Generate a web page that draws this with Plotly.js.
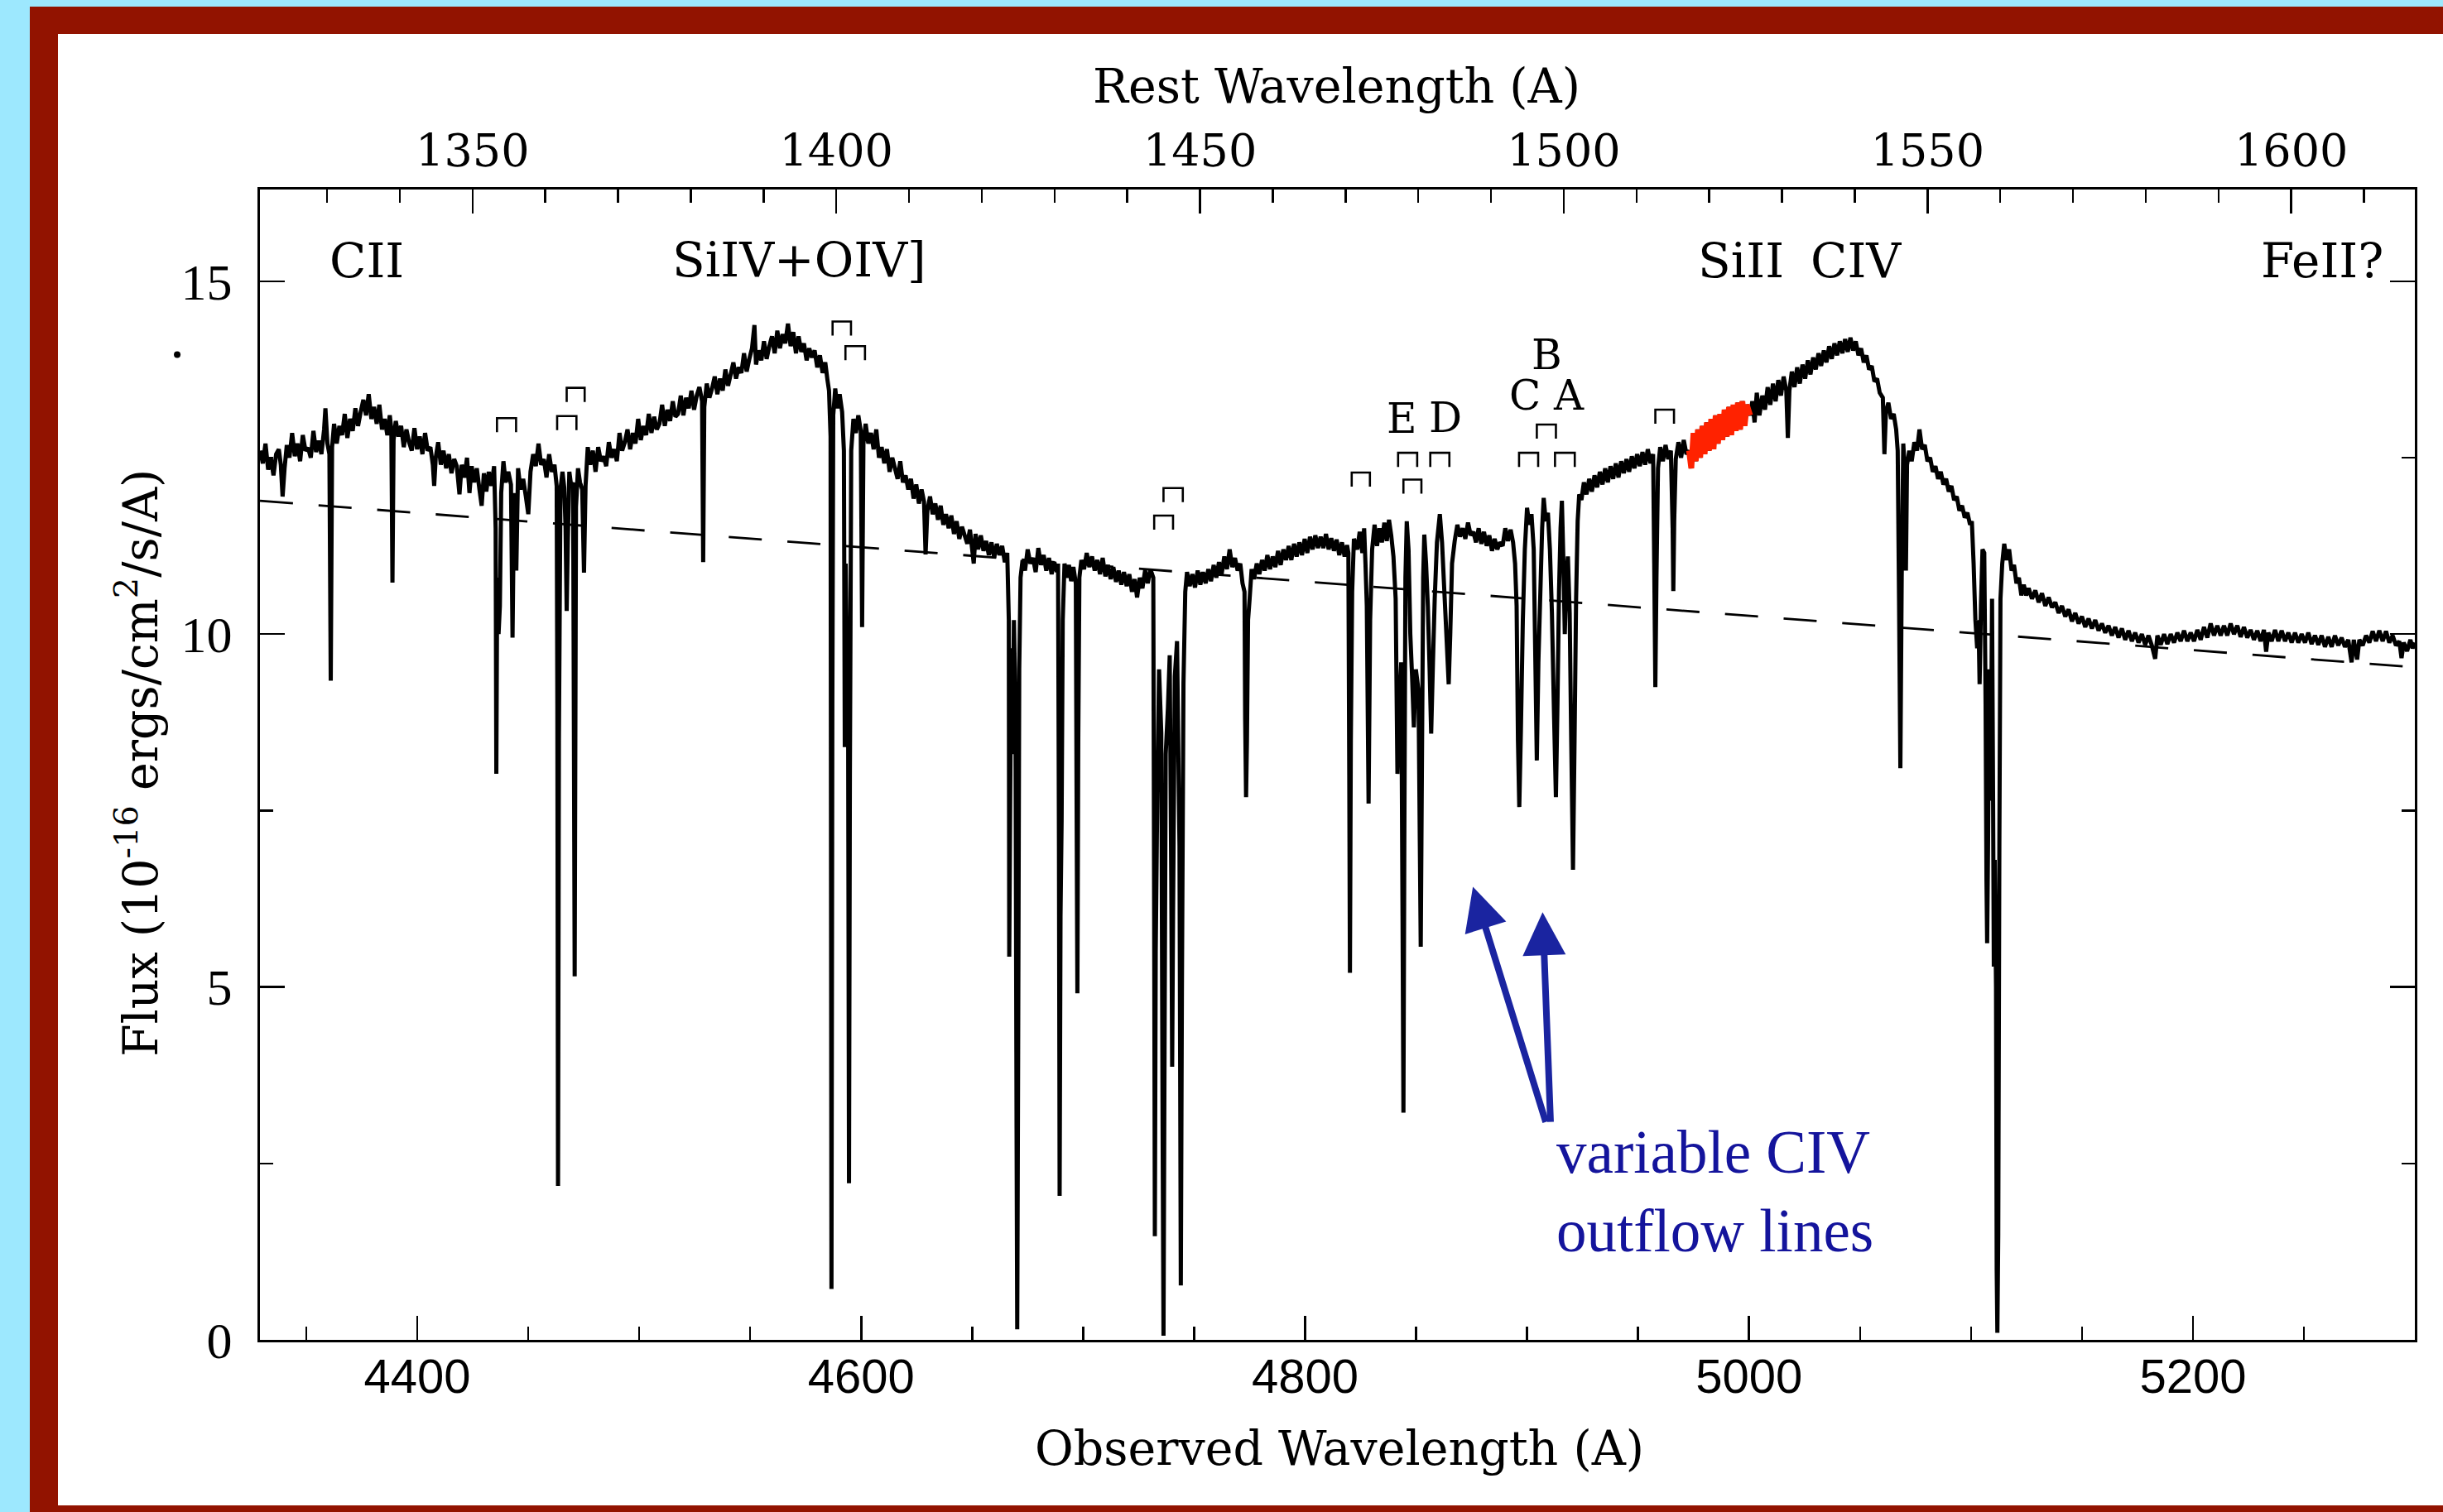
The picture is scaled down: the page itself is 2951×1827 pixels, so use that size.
<!DOCTYPE html>
<html>
<head>
<meta charset="utf-8">
<script src="https://cdn.plot.ly/plotly-3.0.1.min.js"></script>
<style>
  html, body { margin: 0; padding: 0; width: 2951px; height: 1827px; overflow: hidden; background: #9DE8FE; }
  #frame { position: absolute; left: 36px; top: 8px; width: 2915px; height: 1819px; background: #921300; }
  #plot { position: absolute; left: 70px; top: 41px; width: 2881px; height: 1778px; background: #ffffff; }
</style>
</head>
<body>
<div id="frame"></div>
<div id="plot"></div>
<script>
// ---------- DATA (observed wavelength in A, flux in 1e-16 erg/cm2/s/A) ----------
const segCII = [[4329.2,12.6],[4330.4,12.42],[4331.6,12.7],[4332.8,12.33],[4334,12.5],[4335.2,12.25],[4336.4,12.55],[4337.6,12.62],[4338.5,12.4],[4339.3,11.95],[4340.2,12.35],[4341.2,12.68],[4342.4,12.5],[4343.6,12.85],[4344.8,12.52],[4346,12.7],[4347.2,12.45],[4348.4,12.82],[4349.6,12.6],[4350.8,12.64],[4352,12.5],[4353.2,12.88],[4354.4,12.58],[4355.6,12.74],[4356.8,12.55],[4358,12.9],[4358.6,13.2],[4359.5,12.7],[4360.4,12.55],[4361,9.34],[4361.6,12.65],[4362.5,12.98],[4363.7,12.7],[4364.9,12.95],[4366.1,12.82],[4367.3,13.12],[4368.5,12.78],[4369.7,13.05],[4370.9,12.88],[4372.1,13.2],[4373.3,12.95],[4374.5,13.15],[4375.7,13.32],[4376.9,13.1],[4378.1,13.4],[4379.3,13.05],[4380.5,13.22],[4381.7,12.98],[4382.9,13.25],[4384.1,12.9],[4385.3,13.05],[4386.5,12.82],[4387.6,13.1],[4388.3,12.9],[4388.8,10.73],[4389.3,12.75],[4390.3,13.02],[4391.5,12.8],[4392.7,12.95],[4393.9,12.65],[4395.1,12.9],[4396.3,12.72],[4397.5,12.6],[4398.7,12.92],[4399.9,12.62],[4401.1,12.8],[4402.3,12.55],[4403.5,12.85],[4404.7,12.6],[4405.9,12.65],[4407,12.4],[4407.6,12.1],[4408.3,12.5],[4409.4,12.72],[4410.6,12.4],[4411.8,12.6],[4413,12.35],[4414.2,12.55],[4415.4,12.28],[4416.6,12.48],[4417.8,12.38],[4419,11.98],[4420,12.4],[4421.2,12.22],[4422.4,12.5],[4423.5,12.0],[4424.5,12.38],[4425.6,12.15],[4426.8,12.35],[4428,12.05],[4429,11.82],[4430,12.28],[4431.1,12.02],[4432.2,12.3]];
const segAbs1 = [[4433.4,12.1],[4434.6,12.38],[4435.3,11.5],[4435.6,8.02],[4436.0,10.8],[4436.6,10.0],[4437.2,10.4],[4437.8,12.0],[4438.8,12.45],[4439.8,12.15],[4441,12.3],[4442.2,12.12],[4442.9,9.95],[4443.6,12.0],[4444.6,10.9],[4445.4,12.35],[4446.5,12.05],[4447.7,12.2],[4448.9,11.95],[4450,11.7],[4451,12.3],[4452.2,12.55],[4453.4,12.38],[4454.6,12.7],[4455.8,12.4],[4457,12.48],[4458.2,12.22],[4459.4,12.55],[4460.6,12.3],[4461.8,12.4],[4462.8,12.1],[4463.1,9.0],[4463.4,2.18],[4463.8,8.5],[4464.5,12.05],[4465.4,12.3],[4466.2,12.08],[4466.8,11.5],[4467.3,10.33],[4467.8,11.3],[4468.5,12.3],[4469.4,12.08],[4470.2,12.15],[4470.9,5.15],[4471.5,11.8],[4472.4,12.35],[4473.3,12.15],[4474.3,12.05],[4475.1,10.87],[4475.8,12.1],[4476.8,12.65],[4477.9,12.4],[4479.1,12.6]];
const segSiIVRise = [[4480.3,12.3],[4481.5,12.65],[4482.7,12.45],[4483.9,12.52],[4485.1,12.38],[4486.3,12.72],[4487.5,12.5],[4488.7,12.62],[4489.9,12.45],[4491.1,12.85],[4492.3,12.6],[4493.5,12.72],[4494.7,12.9],[4495.9,12.62],[4497.1,12.85],[4498.3,12.7],[4499.5,13.05],[4500.7,12.75],[4501.9,12.95],[4503.1,12.82],[4504.3,13.12],[4505.5,12.85],[4506.7,13.08],[4507.9,12.9],[4509.1,12.98],[4510.3,13.25],[4511.5,12.95],[4512.7,13.18],[4513.9,13.02],[4515.1,13.3],[4516.3,13.08],[4517.5,13.12],[4518.7,13.38],[4519.9,13.1],[4521.1,13.35],[4522.3,13.2],[4523.5,13.45],[4524.7,13.18],[4525.9,13.38],[4527.1,13.5],[4528.3,13.3],[4528.8,11.02],[4529.3,13.22],[4530.4,13.55],[4531.6,13.35],[4532.8,13.48],[4534,13.65],[4535.2,13.4],[4536.4,13.62],[4537.6,13.45],[4538.8,13.75],[4540,13.52],[4541.2,13.68],[4542.4,13.85],[4543.6,13.62],[4544.8,13.78],[4546,13.7],[4547.2,13.98],[4548.4,13.72],[4549.6,13.9],[4550.8,14.05],[4551.9,14.38],[4552.6,13.82],[4553.8,14.02],[4555,13.88],[4556.2,14.15],[4557.4,13.9],[4558.6,14.08],[4559.8,14.22],[4561,13.98],[4562.2,14.3],[4563.4,14.05],[4564.6,14.25],[4565.8,14.12],[4567,14.4],[4568.2,14.08],[4569.4,14.28],[4570.6,13.98],[4571.8,14.22],[4573,14.0],[4574.2,14.12],[4575.4,13.88],[4576.6,14.05],[4577.8,13.92],[4579,14.02],[4580.2,13.78],[4581.4,13.95],[4582.6,13.7],[4583.8,13.85],[4584.8,13.6],[4585.5,13.45]];
const segSiIVAbs = [[4586.2,12.8],[4586.6,0.72],[4587.0,9.0],[4587.4,13.1],[4588.3,13.48],[4589.3,13.2],[4590.3,13.4],[4591.4,13.15],[4592.2,12.6],[4592.6,8.4],[4593.0,11.0],[4593.6,9.6],[4594.1,9.0],[4594.5,2.22],[4594.9,8.0],[4595.5,12.6],[4596.5,13.05],[4597.6,12.85],[4598.7,13.1],[4599.8,12.88],[4600.4,10.1],[4601,12.7],[4602,12.98],[4603.2,12.7],[4604.4,12.85],[4605.6,12.62],[4606.8,12.9],[4608,12.5],[4609.2,12.65],[4610.4,12.42],[4611.6,12.62],[4612.8,12.3],[4614,12.5],[4615.2,12.35],[4616.4,12.2],[4617.6,12.45],[4618.8,12.15],[4620,12.25],[4621.2,12.05],[4622.4,12.2],[4623.6,11.92],[4624.8,12.12],[4626,11.85],[4627.2,12.05],[4628.3,11.88],[4629,11.13],[4629.8,11.75],[4631,11.95],[4632.2,11.7],[4633.4,11.85],[4634.6,11.62],[4635.8,11.82],[4637,11.55],[4638.2,11.7],[4639.4,11.5],[4640.6,11.68],[4641.8,11.42],[4643,11.6],[4644.2,11.35],[4645.4,11.52],[4646.6,11.4],[4647.8,11.28],[4649,11.48],[4650.7,11.0],[4651.5,11.42],[4652.7,11.2],[4653.9,11.4],[4655.1,11.18],[4656.3,11.32],[4657.5,11.12],[4658.7,11.3],[4659.9,11.08],[4661.1,11.28],[4662.3,11.12],[4663.5,11.25],[4664.7,11.02],[4665.8,11.15]];
const segAbs2 = [[4666.5,10.2],[4666.7,5.43],[4667.1,7.5],[4667.6,9.8],[4668.2,8.3],[4668.8,10.2],[4669.5,9.0],[4670.0,3.0],[4670.3,0.15],[4670.7,4.0],[4671.2,9.5],[4671.8,10.8],[4672.7,11.05],[4673.8,10.9],[4675,11.2],[4676.2,11.0],[4677.4,11.08],[4678.6,10.88],[4679.8,11.22],[4681,10.98],[4682.2,11.12],[4683.4,10.9],[4684.6,11.08],[4685.8,10.85],[4687,11.02],[4688.2,10.88],[4688.7,11.0],[4689.1,7.0],[4689.4,2.04],[4689.8,6.0],[4690.3,7.36],[4690.8,10.2],[4691.6,11.0],[4692.6,10.8],[4693.6,10.98],[4694.6,10.75],[4695.6,10.95],[4696.7,10.72],[4697.0,8.0],[4697.4,4.91],[4697.8,8.5],[4698.3,10.8],[4699.2,11.05],[4700.4,10.92],[4701.6,11.15],[4702.8,10.95],[4704,11.1],[4705.2,10.9],[4706.4,11.05],[4707.6,10.85],[4708.8,11.08],[4710,10.82],[4711.2,10.98],[4712.4,10.78],[4713.6,10.95],[4714.8,10.74],[4716,10.9],[4717.2,10.7],[4718.4,10.88],[4719.6,10.68],[4720.8,10.85],[4722,10.6],[4723.2,10.78],[4724.3,10.52],[4725.5,10.8],[4726.7,10.65],[4727.9,10.9],[4729.1,10.72],[4730.3,10.92],[4731.6,10.8],[4732.0,6.0],[4732.3,1.47],[4732.7,5.5],[4733.4,7.74],[4734.2,9.5],[4735.2,8.6],[4735.8,3.0],[4736.2,0.06],[4736.6,3.5],[4737.2,8.3],[4738.2,8.96],[4739.0,9.7],[4739.7,6.5],[4740.1,3.87],[4740.5,6.0],[4741.3,9.4],[4742.3,9.9],[4743.4,7.0],[4744.0,0.77],[4744.5,5.0],[4745.2,9.3],[4746.0,10.6],[4746.8,10.88],[4748,10.68],[4749.2,10.85],[4750.4,10.66],[4751.6,10.9],[4752.8,10.7],[4754,10.88],[4755.2,10.72],[4756.4,10.92],[4757.6,10.75],[4758.8,10.98],[4760,10.8]];
const segMid = [[4761.2,11.02],[4762.4,10.85],[4763.6,11.1],[4764.8,10.92],[4766,11.2],[4767.2,10.95],[4768.4,11.08],[4769.6,10.9],[4770.8,11.0],[4771.8,10.72],[4772.7,10.6],[4773.0,8.8],[4773.4,7.69],[4773.8,8.5],[4774.3,10.2],[4775,10.5],[4775.9,10.92],[4777,10.78],[4778.2,11.0],[4779.4,10.85],[4780.6,11.05],[4781.8,10.9],[4783,11.12],[4784.2,10.92],[4785.4,11.1],[4786.6,10.95],[4787.8,11.18],[4789,10.98],[4790.2,11.2],[4791.4,11.05],[4792.6,11.25],[4793.8,11.05],[4795,11.28],[4796.2,11.1],[4797.4,11.3],[4798.6,11.12],[4799.8,11.35],[4801,11.15],[4802.2,11.38],[4803.4,11.2],[4804.6,11.4],[4805.8,11.22],[4807,11.38],[4808.2,11.22],[4809.4,11.42],[4810.6,11.2],[4811.8,11.36],[4813,11.18],[4814.2,11.34],[4815.4,11.12],[4816.6,11.3],[4817.8,11.1],[4818.9,11.26],[4819.5,11.15],[4819.9,8.0],[4820.2,5.2],[4820.6,8.5],[4821.2,10.6],[4822,11.35]];
const segOutflow = [[4823.5,11.2],[4824.6,11.45],[4825.8,11.15],[4826.6,11.5],[4827.2,11.0],[4827.8,10.4],[4828.6,7.6],[4829.3,10.2],[4830.2,11.2],[4831.3,11.55],[4832.4,11.25],[4833.5,11.5],[4834.6,11.3],[4835.7,11.58],[4836.8,11.32],[4837.8,11.62],[4838.8,11.4],[4839.8,11.1],[4840.8,10.5],[4841.6,8.02],[4842.4,9.0],[4843.3,9.6],[4843.9,6.0],[4844.3,3.22],[4844.7,7.0],[4845.2,10.8],[4845.8,11.6],[4846.6,11.2],[4847.4,10.0],[4848.2,9.4],[4849,8.68],[4849.9,9.5],[4851.1,9.2],[4851.7,7.0],[4852.1,5.57],[4852.6,8.0],[4853.2,10.8],[4853.7,11.41],[4854.5,11.0],[4855.3,10.4],[4856.1,9.5],[4856.8,8.59],[4857.6,9.6],[4858.4,10.5],[4859.4,11.3],[4860.7,11.7],[4861.7,11.3],[4862.6,10.7],[4863.8,9.9],[4864.7,9.29],[4865.4,10.0],[4866.2,11.0],[4867.4,11.32],[4868.6,11.55],[4869.8,11.38],[4871,11.5],[4872.2,11.35],[4873.4,11.58],[4874.6,11.4],[4875.8,11.45],[4877,11.3],[4878.2,11.5],[4879.4,11.28],[4880.6,11.45],[4881.8,11.25],[4883,11.4],[4884.2,11.18],[4885.4,11.35],[4886.6,11.2],[4887.8,11.3],[4889,11.25],[4890.2,11.5],[4891.4,11.32],[4892.6,11.48],[4893.7,11.3],[4894.6,11.0],[4895.3,10.4],[4895.9,8.5],[4896.5,7.55],[4897.2,8.6],[4898.1,10.2],[4899,11.2],[4900,11.79],[4901,11.55],[4902,11.7],[4903,11.2],[4903.8,9.5],[4904.4,8.21],[4905.1,9.6],[4906,10.6],[4906.8,11.5],[4907.5,11.93],[4908.4,11.6],[4909.4,11.72],[4910.3,11.2],[4911.2,10.3],[4912.2,8.8],[4913,7.69],[4913.7,9.0],[4914.4,10.6],[4915.1,11.5],[4915.7,11.89],[4916.4,11.0],[4917,10.0],[4917.7,10.8],[4918.4,11.1],[4919.2,10.3],[4919.9,8.5],[4920.7,6.66],[4921.4,8.5],[4922.1,10.5],[4922.8,11.6],[4923.5,11.98]];
const segPreRed = [[4924.5,11.9],[4925.6,12.15],[4926.8,11.98],[4928,12.2],[4929.2,12.02],[4930.4,12.25],[4931.6,12.08],[4932.8,12.3],[4934,12.12],[4935.2,12.35],[4936.4,12.15],[4937.6,12.38],[4938.8,12.2],[4940,12.42],[4941.2,12.22],[4942.4,12.45],[4943.6,12.28],[4944.8,12.48],[4946,12.3],[4947.2,12.52],[4948.4,12.35],[4949.6,12.55],[4950.8,12.38],[4952,12.58],[4953.2,12.4],[4954.4,12.62],[4955.6,12.42],[4956.8,12.55],[4957.3,11.0],[4957.8,9.25],[4958.3,10.8],[4959,12.35],[4960,12.65],[4961.2,12.45],[4962.4,12.68],[4963.6,12.48],[4964.8,12.6],[4965.6,11.5],[4965.9,10.61],[4966.3,11.6],[4967,12.48],[4968.2,12.72],[4969.4,12.5],[4970.6,12.75],[4971.8,12.55]];
const segRed = [[4973,12.6],[4974,12.35],[4975,12.85],[4976,12.45],[4977,12.9],[4978,12.5],[4979,12.95],[4980,12.55],[4981,13.0],[4982,12.6],[4983,13.05],[4984,12.62],[4985,13.1],[4986,12.7],[4987,13.12],[4988,12.75],[4989,13.18],[4990,12.8],[4991,13.22],[4992,12.82],[4993,13.25],[4994,12.88],[4995,13.28],[4996,12.9],[4997,13.3],[4998,12.95],[4999,13.25],[5000.5,13.1]];
const segCIV = [[5001.5,13.3],[5002.5,13.0],[5003.5,13.42],[5004.7,13.1],[5006,13.38],[5007.2,13.18],[5008.4,13.5],[5009.6,13.25],[5010.8,13.55],[5012,13.3],[5013.2,13.6],[5014.4,13.38],[5015.6,13.65],[5016.8,13.45],[5017.5,12.78],[5018.2,13.45],[5019.3,13.72],[5020.5,13.5],[5021.7,13.78],[5022.9,13.55],[5024.1,13.82],[5025.3,13.62],[5026.5,13.88],[5027.7,13.68],[5028.9,13.92],[5030.1,13.75],[5031.3,13.98],[5032.5,13.8],[5033.7,14.02],[5034.9,13.85],[5036.1,14.08],[5037.3,13.9],[5038.5,14.12],[5039.7,13.95],[5040.9,14.15],[5042.1,13.98],[5043.3,14.18],[5044.5,14.0],[5045.7,14.2],[5046.9,14.02],[5048.1,14.15],[5049.3,13.95],[5050.5,14.05],[5051.7,13.85],[5052.9,13.95],[5054.1,13.75],[5055.3,13.8],[5056.5,13.58],[5057.7,13.62],[5058.9,13.42],[5060.3,13.35],[5061,12.55],[5061.7,13.15],[5062.8,13.28],[5064,13.05],[5065.2,13.12],[5066.3,12.9],[5067,12.6]];
const segCIVAbs = [[5067.6,10.5],[5068.2,8.1],[5068.8,10.8],[5069.5,12.7],[5070.2,12.3],[5070.7,10.9],[5071.2,12.4],[5072.2,12.6],[5073.3,12.45],[5074.5,12.72],[5075.7,12.6],[5076.8,12.9],[5078,12.62],[5079.2,12.68],[5080.4,12.45],[5081.6,12.5],[5082.8,12.3],[5084,12.38],[5085.2,12.2],[5086.4,12.3],[5087.6,12.12],[5088.8,12.2],[5090,12.02],[5091.2,12.1],[5092.4,11.9],[5093.6,11.95],[5094.8,11.75],[5096,11.82],[5097.2,11.65],[5098.4,11.72],[5099.6,11.55],[5100.4,11.6],[5101.2,11.0],[5102,10.2],[5102.8,9.8],[5103.4,10.2],[5103.9,9.29],[5104.5,10.4],[5105.2,11.2],[5106,11.15],[5106.6,9.0],[5107.0,6.5],[5107.3,5.62],[5107.7,7.0],[5108.2,9.5],[5108.9,7.64],[5109.5,10.5],[5110.0,7.5],[5110.3,5.29],[5110.7,6.8],[5111.3,5.0],[5111.6,1.0],[5111.9,0.1],[5112.3,1.5],[5112.8,7.0],[5113.3,10.5],[5114.1,11.0],[5115,11.28],[5116,11.05],[5117.2,11.2],[5118.3,10.9],[5119.4,10.98],[5120.5,10.72],[5121.6,10.8],[5122.7,10.55],[5123.8,10.7],[5124.9,10.55]];
const segTail = [[5126,10.65],[5127.5,10.5],[5129,10.62],[5130.5,10.45],[5132,10.58],[5133.5,10.4],[5135,10.52],[5136.5,10.38],[5138,10.45],[5139.5,10.3],[5141,10.4],[5142.5,10.25],[5144,10.35],[5145.5,10.18],[5147,10.3],[5148.5,10.15],[5150,10.25],[5151.5,10.1],[5153,10.22],[5154.5,10.08],[5156,10.2],[5157.5,10.05],[5159,10.15],[5160.5,10.02],[5162,10.12],[5163.5,9.98],[5165,10.1],[5166.5,9.95],[5168,10.08],[5169.5,9.92],[5171,10.05],[5172.5,9.9],[5174,10.02],[5175.5,9.88],[5177,10.0],[5178.5,9.85],[5180,9.98],[5181.5,9.84],[5183,9.65],[5184,9.98],[5185.5,9.85],[5187,10.0],[5188.5,9.86],[5190,10.0],[5191.5,9.88],[5193,10.02],[5194.5,9.9],[5196,10.05],[5197.5,9.9],[5199,10.02],[5200.5,9.9],[5202,10.06],[5203.5,9.92],[5205,10.1],[5206.5,9.95],[5208,10.15],[5209.5,9.98],[5211,10.12],[5212.5,9.98],[5214,10.12],[5215.5,9.98],[5217,10.15],[5218.5,10.0],[5220,10.12],[5221.5,9.96],[5223,10.1],[5224.5,9.95],[5226,10.06],[5227.5,9.92],[5229,10.05],[5230.5,9.9],[5232,10.06],[5233,9.75],[5234,10.02],[5235.5,9.9],[5237,10.06],[5238.5,9.9],[5240,10.05],[5241.5,9.9],[5243,10.02],[5244.5,9.88],[5246,10.02],[5247.5,9.88],[5249,10.0],[5250.5,9.88],[5252,10.02],[5253.5,9.86],[5255,9.98],[5256.5,9.85],[5258,9.98],[5259.5,9.82],[5261,9.96],[5262.5,9.82],[5264,9.98],[5265.5,9.84],[5267,9.95],[5268.5,9.82],[5270,9.92],[5271.5,9.6],[5272.5,9.92],[5274,9.64],[5275,9.92],[5276.5,9.84],[5278,9.98],[5279.5,9.88],[5281,10.04],[5282.5,9.9],[5284,10.05],[5285.5,9.9],[5287,10.04],[5288.5,9.88],[5290,9.98],[5291.5,9.84],[5293,9.9],[5294,9.66],[5295,9.88],[5296.5,9.76],[5298,9.92],[5299,9.8],[5300,9.88]];

// dashed continuum fit
const continuumWl = [4329.1, 5300];
const continuumFlux = [11.89, 9.53];

// absorption doublet brackets
const bracketLeft  = [4435.9, 4463.0, 4467.3, 4587.1, 4592.9, 4732.0, 4736.2, 4821.0, 4841.9, 4844.3, 4856.4, 4896.4, 4904.4, 4912.6, 4957.8];
const bracketRight = [4444.5, 4471.7, 4475.4, 4595.4, 4601.7, 4740.5, 4744.9, 4829.2, 4850.5, 4852.4, 4865.0, 4905.0, 4913.0, 4921.5, 4966.2];
const bracketTop   = [13.06, 13.09, 13.49, 14.43, 14.08, 11.68, 12.07, 12.29, 12.57, 12.19, 12.57, 12.57, 12.97, 12.57, 13.18];
const bracketLeg = 0.2;

// emission line labels
const emLabels = ['CII', 'SiIV+OIV]', 'SiII', 'CIV', 'FeII?'];
const emLabelWl = [4377.2, 4572.0, 4996.4, 5048.3, 5258.3];
const emLabelFlux = [15.29, 15.30, 15.29, 15.29, 15.29];

// outflow component labels
const compLabels = ['E', 'D', 'C', 'B', 'A'];
const compLabelWl = [4843.6, 4863.3, 4899.2, 4908.9, 4918.8];
const compLabelFlux = [13.05, 13.06, 13.38, 13.95, 13.38];

// arrows: tip and tail (obs wavelength, flux)
const arrowTipWl = [4875.6, 4907.0];
const arrowTipFlux = [6.42, 6.06];
const arrowTailWl = [4908.6, 4910.6];
const arrowTailFlux = [3.07, 3.07];

const redshiftFactor = 3.2777; // 1 + z, rest = observed / (1+z)
const obsRange = [4329.1, 5300];
const fluxRange = [0, 16.3];

// ---------- BUILD ----------
const blackSeg = [].concat(segCII, segAbs1, segSiIVRise, segSiIVAbs, segAbs2, segMid, segOutflow, segPreRed, segRed, segCIV, segCIVAbs, segTail);

const bx = [], by = [];
for (let i = 0; i < bracketLeft.length; i++) {
  bx.push(bracketLeft[i], bracketLeft[i], bracketRight[i], bracketRight[i], null);
  by.push(bracketTop[i] - bracketLeg, bracketTop[i], bracketTop[i], bracketTop[i] - bracketLeg, null);
}

const traces = [
  { x: continuumWl, y: continuumFlux, mode: 'lines', line: { color: 'black', width: 2.8, dash: '40px,31px' }, hoverinfo: 'skip', showlegend: false },
  { x: blackSeg.map(p => p[0]), y: blackSeg.map(p => p[1]), mode: 'lines', line: { color: 'black', width: 5, simplify: false }, hoverinfo: 'skip', showlegend: false },
  { x: segRed.map(p => p[0]), y: segRed.map(p => p[1]), mode: 'lines', line: { color: '#FF2200', width: 7, simplify: false }, hoverinfo: 'skip', showlegend: false },
  { x: bx, y: by, mode: 'lines', line: { color: 'black', width: 2.6 }, hoverinfo: 'skip', showlegend: false, connectgaps: false },
  { x: [obsRange[0] / redshiftFactor], y: [null], xaxis: 'x2', yaxis: 'y', mode: 'lines', hoverinfo: 'skip', showlegend: false }
];

const serif = 'DejaVu Serif, serif';
const annotations = [];
emLabels.forEach((t, i) => annotations.push({ x: emLabelWl[i], y: emLabelFlux[i], xref: 'x', yref: 'y', text: t, showarrow: false, xanchor: 'center', yanchor: 'middle', font: { family: serif, size: 58, color: 'black' } }));
compLabels.forEach((t, i) => annotations.push({ x: compLabelWl[i], y: compLabelFlux[i], xref: 'x', yref: 'y', text: t, showarrow: false, xanchor: 'center', yanchor: 'middle', font: { family: serif, size: 50, color: 'black' } }));
arrowTipWl.forEach((w, i) => annotations.push({ x: w, y: arrowTipFlux[i], xref: 'x', yref: 'y', ax: arrowTailWl[i], ay: arrowTailFlux[i], axref: 'x', ayref: 'y', text: '', showarrow: true, arrowhead: 2, arrowsize: 1.3, arrowwidth: 8, arrowcolor: '#1A24A0', standoff: 0, startstandoff: 0 }));
annotations.push({ x: 4912.5, y: 2.1, xref: 'x', yref: 'y', text: 'variable CIV<br>outflow lines', showarrow: false, xanchor: 'left', yanchor: 'middle', align: 'left', font: { family: 'Liberation Serif, Times New Roman, serif', size: 73, color: '#14149C' } });
// axis titles
annotations.push({ x: 0.4998, y: 1.09, xref: 'paper', yref: 'paper', text: 'Rest Wavelength (A)', showarrow: false, xanchor: 'center', yanchor: 'middle', font: { family: serif, size: 57, color: 'black' } });
annotations.push({ x: 0.501, y: -0.0942, xref: 'paper', yref: 'paper', text: 'Observed Wavelength (A)', showarrow: false, xanchor: 'center', yanchor: 'middle', font: { family: serif, size: 57, color: 'black' } });
annotations.push({ x: -0.0569, y: 0.5014, xref: 'paper', yref: 'paper', text: 'Flux (10<sup>-16</sup> ergs/cm<sup>2</sup>/s/A)', textangle: -90, showarrow: false, xanchor: 'center', yanchor: 'middle', font: { family: serif, size: 57, color: 'black' } });

const tickCommon = { ticks: 'inside', tickcolor: 'black', tickwidth: 2.5, showgrid: false, zeroline: false, showline: true, linecolor: 'black', linewidth: 3 };

const layout = {
  width: 2881, height: 1778,
  margin: { l: 244, r: 34, t: 188, b: 200, pad: 0 },
  paper_bgcolor: 'white', plot_bgcolor: 'white',
  hovermode: false, showlegend: false,
  xaxis: Object.assign({}, tickCommon, {
    range: obsRange, dtick: 200, tick0: 0, ticklen: 29, mirror: false,
    tickfont: { family: 'Liberation Sans, Arial, sans-serif', size: 58, color: 'black' },
    ticklabelstandoff: -9,
    minor: { dtick: 50, tick0: 0, ticks: 'inside', ticklen: 16, tickwidth: 2.5, tickcolor: 'black', showgrid: false }
  }),
  xaxis2: Object.assign({}, tickCommon, {
    overlaying: 'x', side: 'top', anchor: 'y',
    range: [obsRange[0] / redshiftFactor, obsRange[1] / redshiftFactor], dtick: 50, tick0: 0, ticklen: 29,
    tickfont: { family: serif, size: 54, color: 'black' },
    ticklabelstandoff: 3,
    minor: { dtick: 10, tick0: 0, ticks: 'inside', ticklen: 16, tickwidth: 2.5, tickcolor: 'black', showgrid: false }
  }),
  yaxis: Object.assign({}, tickCommon, {
    range: fluxRange, dtick: 5, tick0: 0, ticklen: 30, mirror: 'ticks',
    tickfont: { family: 'Liberation Serif, Times New Roman, serif', size: 62, color: 'black' },
    ticklabelstandoff: 18,
    minor: { dtick: 2.5, tick0: 0, ticks: 'inside', ticklen: 16, tickwidth: 2.5, tickcolor: 'black', showgrid: false }
  }),
  annotations: annotations,
  shapes: [
    { type: 'circle', xref: 'paper', yref: 'y', xsizemode: 'pixel', ysizemode: 'pixel', xanchor: -0.0384, yanchor: 13.96, x0: -4, x1: 4, y0: -4, y1: 4, fillcolor: 'black', line: { width: 0 } }
  ]
};

Plotly.newPlot('plot', traces, layout, { displayModeBar: false, staticPlot: true });
</script>
</body>
</html>
